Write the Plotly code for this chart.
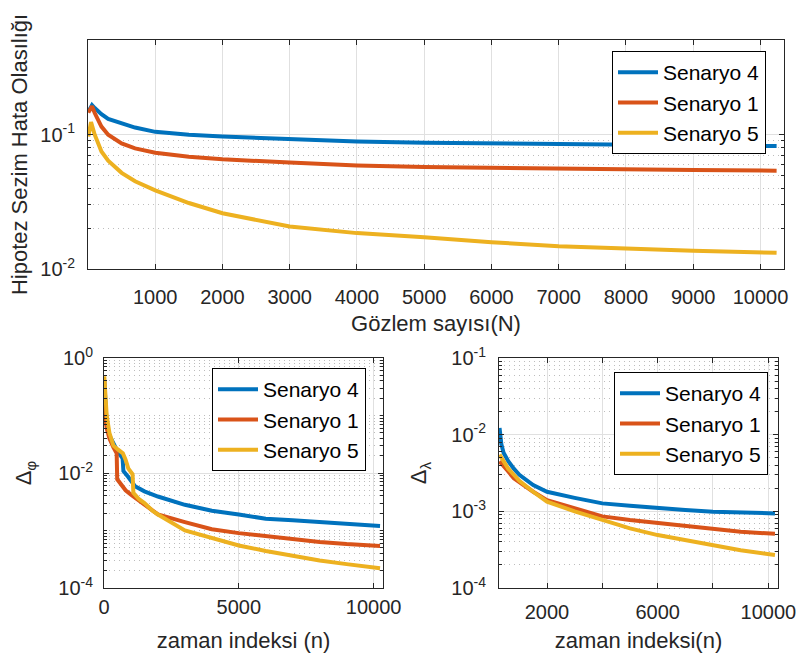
import plotly.graph_objects as go

# ---------------- data ----------------
series_names = ["Senaryo 4", "Senaryo 1", "Senaryo 5"]
colors = ["#0072BD", "#D95319", "#EDB120"]

# Top: Hypothesis detection error probability vs number of observations
top_N_s4 = [10, 60, 100, 200, 300, 500, 700, 1000, 1500, 2000, 3000, 4000, 5000, 6000, 7000, 8000, 9000, 10240]
top_p_s4 = [0.150, 0.166, 0.158, 0.142, 0.131, 0.1215, 0.113, 0.105, 0.100, 0.097, 0.0925, 0.089, 0.087, 0.0858, 0.0848, 0.0838, 0.083, 0.0822]
top_N_s1 = [5, 60, 100, 200, 300, 500, 700, 1000, 1500, 2000, 3000, 4000, 5000, 6000, 7000, 8000, 9000, 10240]
top_p_s1 = [0.146, 0.163, 0.145, 0.115, 0.100, 0.086, 0.079, 0.0735, 0.0685, 0.0656, 0.062, 0.059, 0.0575, 0.0565, 0.0557, 0.055, 0.0545, 0.054]
top_N_s5 = [5, 45, 100, 200, 300, 500, 700, 1000, 1500, 2000, 3000, 4000, 5000, 6000, 7000, 8000, 9000, 10240]
top_p_s5 = [0.097, 0.124, 0.100, 0.075, 0.064, 0.052, 0.045, 0.0385, 0.031, 0.026, 0.0207, 0.0185, 0.0172, 0.0158, 0.0148, 0.0142, 0.0137, 0.0132]

# Bottom-left: Delta_phi vs time index
phi_n_s4 = [10, 50, 100, 200, 350, 500, 690, 720, 900, 1000, 1150, 1500, 2000, 3000, 4000, 5000, 6000, 7000, 8000, 9000, 10240]
phi_v_s4 = [0.40, 0.12, 0.07, 0.045, 0.033, 0.024, 0.018, 0.0108, 0.0085, 0.0075, 0.0059, 0.0048, 0.0039, 0.0028, 0.0022, 0.0019, 0.0016, 0.0015, 0.0014, 0.0013, 0.0012]
phi_n_s1 = [10, 50, 100, 200, 350, 470, 490, 600, 800, 1000, 1500, 1800, 2000, 3000, 4000, 5000, 6000, 7000, 8000, 9000, 10240]
phi_v_s1 = [0.40, 0.09, 0.06, 0.04, 0.028, 0.022, 0.0078, 0.0065, 0.005, 0.0042, 0.0028, 0.0022, 0.0019, 0.0014, 0.00105, 0.0009, 0.0008, 0.0007, 0.00063, 0.00058, 0.00054]
phi_n_s5 = [10, 50, 100, 200, 350, 500, 700, 800, 900, 1060, 1090, 1300, 1500, 1800, 2000, 3000, 4000, 5000, 6000, 7000, 8000, 9000, 10240]
phi_v_s5 = [0.48, 0.20, 0.10, 0.05, 0.03, 0.026, 0.022, 0.017, 0.012, 0.0095, 0.0045, 0.0035, 0.003, 0.0022, 0.0019, 0.001, 0.00075, 0.00055, 0.00044, 0.00036, 0.0003, 0.00026, 0.00022]

# Bottom-right: Delta_lambda vs time index
lam_n = [285, 350, 430, 600, 800, 1000, 1500, 2000, 3000, 4000, 5000, 6000, 7000, 8000, 9000, 10240]
lam_v_s4 = [0.0122, 0.0075, 0.0058, 0.0045, 0.0036, 0.0030, 0.0022, 0.0018, 0.0015, 0.00127, 0.00118, 0.0011, 0.00104, 0.00099, 0.00096, 0.00094]
lam_v_s1 = [0.0045, 0.0042, 0.0038, 0.0033, 0.0027, 0.0024, 0.0018, 0.0014, 0.0011, 0.00086, 0.00077, 0.0007, 0.00064, 0.00058, 0.00054, 0.00051]
lam_v_s5 = [0.0055, 0.0050, 0.0044, 0.0036, 0.0030, 0.0025, 0.0018, 0.00134, 0.0010, 0.00077, 0.0006, 0.00049, 0.00042, 0.00036, 0.00031, 0.00027]

top_xticks = [1000, 2000, 3000, 4000, 5000, 6000, 7000, 8000, 9000, 10000]
bl_xticks = [0, 5000, 10000]
br_xticks = [2000, 4000, 6000, 8000, 10000]
br_xticktext = ["2000", "", "6000", "", "10000"]

# ---------------- figure ----------------
W, H = 798, 661
FONT = "Liberation Sans, Arial, Helvetica, sans-serif"
AX = "#262626"
GRID = "#e0e0e0"
MINOR = "#bdbdbd"

fig = go.Figure()

def add(xs, ys, name, color, xa, ya, legend):
    fig.add_trace(go.Scatter(x=xs, y=ys, name=name, mode="lines",
                             line=dict(color=color, width=4),
                             xaxis=xa, yaxis=ya, legend=legend))

add(top_N_s4, top_p_s4, series_names[0], colors[0], "x", "y", "legend")
add(top_N_s1, top_p_s1, series_names[1], colors[1], "x", "y", "legend")
add(top_N_s5, top_p_s5, series_names[2], colors[2], "x", "y", "legend")
add(phi_n_s4, phi_v_s4, series_names[0], colors[0], "x2", "y2", "legend2")
add(phi_n_s1, phi_v_s1, series_names[1], colors[1], "x2", "y2", "legend2")
add(phi_n_s5, phi_v_s5, series_names[2], colors[2], "x2", "y2", "legend2")
add(lam_n, lam_v_s4, series_names[0], colors[0], "x3", "y3", "legend3")
add(lam_n, lam_v_s1, series_names[1], colors[1], "x3", "y3", "legend3")
add(lam_n, lam_v_s5, series_names[2], colors[2], "x3", "y3", "legend3")

def px_x(a, b):
    return [a / W, b / W]

def px_y(top, bottom):
    return [1 - bottom / H, 1 - top / H]

def log_ticks(lo, hi, step):
    vals, text, minor = [], [], []
    for e in range(lo, hi + 1):
        if (e - lo) % step == 0:
            vals.append(10.0 ** e)
            text.append("10<sup>%d</sup>" % e)
        else:
            minor.append(10.0 ** e)
        if e < hi:
            minor += [k * 10.0 ** e for k in range(2, 10)]
    return vals, text, minor

base_axis = dict(showline=True, linecolor=AX, linewidth=1, mirror="allticks",
                 ticks="inside", ticklen=5, tickcolor=AX, showgrid=True,
                 gridcolor=GRID, gridwidth=1, zeroline=False, automargin=False,
                 tickfont=dict(family=FONT, size=20, color=AX))

def xaxis(domain, rng, tickvals, ticktext, title, anchor, standoff, lstand):
    d = dict(base_axis)
    d.update(domain=domain, range=rng, tickmode="array", tickvals=tickvals,
             ticktext=ticktext, anchor=anchor, ticklabelstandoff=lstand,
             title=dict(text=title, font=dict(family=FONT, size=22, color=AX), standoff=standoff))
    return d

def yaxis(domain, lo, hi, step, rng, title, anchor, standoff, lstand):
    vals, text, minor = log_ticks(lo, hi, step)
    d = dict(base_axis)
    d.update(domain=domain, type="log", range=rng, tickmode="array", tickvals=vals,
             ticktext=text, anchor=anchor, ticklabelstandoff=lstand,
             minor=dict(tickmode="array", tickvals=minor, ticks="inside", ticklen=3,
                        tickcolor=AX, showgrid=True, gridcolor=MINOR, griddash="1px,4px", gridwidth=1),
             title=dict(text=title, font=dict(family=FONT, size=22, color=AX), standoff=standoff))
    return d

fig.update_layout(
    width=W, height=H, margin=dict(l=0, r=0, t=0, b=0, autoexpand=False),
    paper_bgcolor="white", plot_bgcolor="white",
    font=dict(family=FONT, color=AX),
    xaxis=xaxis(px_x(88, 784), [0, 10350], top_xticks, [str(v) for v in top_xticks],
                "Gözlem sayısı(N)", "y", 8, 10),
    yaxis=yaxis(px_y(40, 269), -2, -1, 1, [-2, -0.295], "Hipotez Sezim Hata Olasılığı", "x", 6, 8),
    xaxis2=xaxis(px_x(104, 383), [0, 10350], bl_xticks, [str(v) for v in bl_xticks],
                 "zaman indeksi (n)", "y2", 15, 1),
    yaxis2=yaxis(px_y(358, 588), -4, 0, 2, [-4, 0], "Δ<sub>φ</sub>", "x2", 20, 6),
    xaxis3=xaxis(px_x(499, 778), [265, 10350], br_xticks, br_xticktext,
                 "zaman indeksi(n)", "y3", 10, 6),
    yaxis3=yaxis(px_y(358, 588), -4, -1, 1, [-4, -1], "Δ<sub>λ</sub>", "x3", 18, 8),
    showlegend=True,
)

leg_common = dict(bgcolor="white", bordercolor="#000000", borderwidth=1,
                  font=dict(family=FONT, size=21, color="#000000"),
                  xanchor="right", yanchor="top", tracegroupgap=0, itemwidth=40)
fig.update_layout(
    legend=dict(leg_common, x=766 / W, y=1 - 51 / H),
    legend2=dict(leg_common, x=366 / W, y=1 - 368 / H),
    legend3=dict(leg_common, x=768 / W, y=1 - 372 / H),
)

fig.write_html("out.html", config={"displayModeBar": False},
               post_script="document.body.style.margin='0';")
